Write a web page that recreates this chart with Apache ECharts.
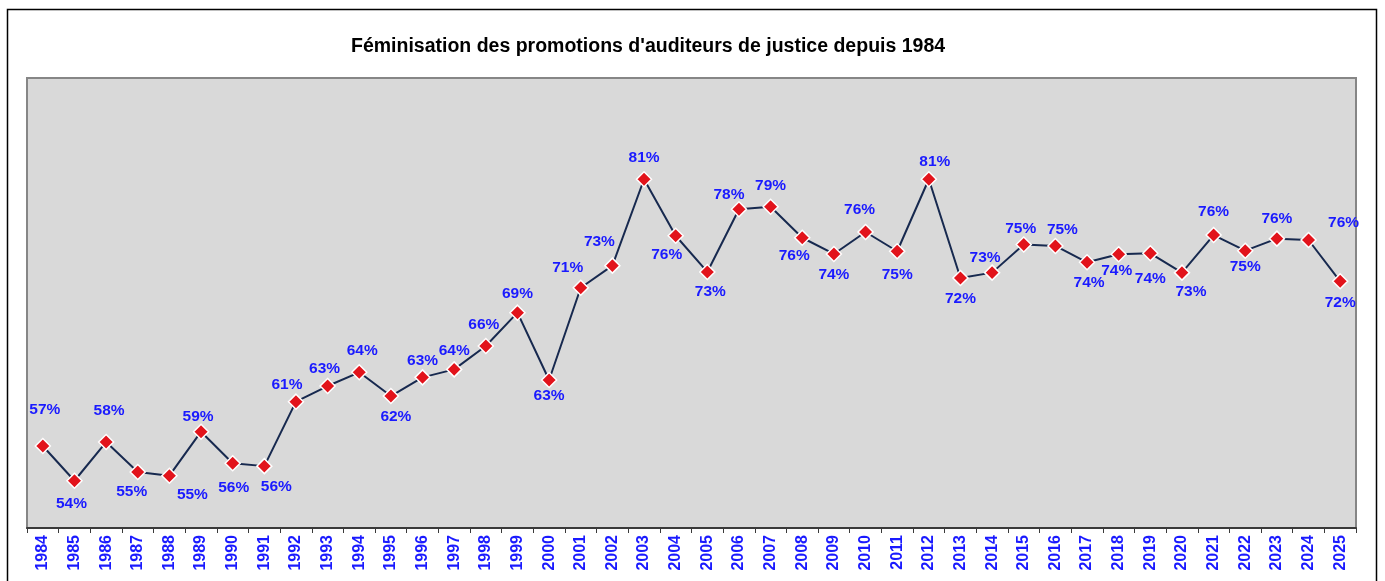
<!DOCTYPE html>
<html>
<head>
<meta charset="utf-8">
<script src="https://cdn.jsdelivr.net/npm/echarts@6/dist/echarts.min.js"></script>
<style>
html,body{margin:0;padding:0;background:#fff;}
#chart{width:1385px;height:581px;}
</style>
</head>
<body>
<div id="chart"></div>
<script>
// ---- Data ----
const chartTitle = "Féminisation des promotions d'auditeurs de justice depuis 1984";
const years = ['1984','1985','1986','1987','1988','1989','1990','1991','1992','1993','1994','1995','1996','1997',
  '1998','1999','2000','2001','2002','2003','2004','2005','2006','2007','2008','2009','2010','2011',
  '2012','2013','2014','2015','2016','2017','2018','2019','2020','2021','2022','2023','2024','2025'];
const femRate = [57.29, 54.2, 57.64, 54.98, 54.65, 58.56, 55.75, 55.5, 61.23, 62.62, 63.84, 61.73, 63.39, 64.1,
  66.18, 69.14, 63.16, 71.36, 73.32, 81.0, 75.98, 72.76, 78.33, 78.55, 75.8, 74.36, 76.31, 74.6,
  81.0, 72.22, 72.7, 75.2, 75.07, 73.62, 74.33, 74.42, 72.7, 76.04, 74.65, 75.72, 75.6, 71.93];

// ---- Layout (label placement offsets relative to each marker, px) ----
const labelOffsets = [
  [2,-36],[-3,23],[3,-31],[-6,20],[23,19],[-3,-15],[1,24],[12,21],[-9,-17],[-3,-17],[3,-22],[5,21],[0,-17],[0,-19],
  [-2,-21],[0,-19],[0,16],[-13,-20],[-13,-24],[0,-22],[-9,19],[3,20],[-10,-15],[0,-21],[-8,18],[0,21],[-6,-22],[0,23],
  [6,-18],[0,21],[-7,-15],[-3,-16],[7,-16],[2,20],[-2,16],[0,25],[9,19],[0,-23],[0,16],[0,-20],[35,-17],[0,21]
];

const FONT = '"Liberation Sans", Arial, sans-serif';
const chart = echarts.init(document.getElementById('chart'), null, {renderer: 'canvas'});

const option = {
  backgroundColor: '#ffffff',
  animation: false,
  title: {
    text: chartTitle,
    left: 346,
    top: 32,
    textStyle: {fontFamily: FONT, fontSize: 19.5, fontWeight: 'bold', color: '#000'}
  },
  graphic: [{
    type: 'rect',
    z: 100,
    shape: {x: 7.5, y: 9.5, width: 1369, height: 620},
    style: {fill: 'none', stroke: '#000', lineWidth: 1.5}
  }],
  grid: {
    left: 27, top: 78, right: 29, bottom: 53,
    show: true,
    backgroundColor: '#d9d9d9',
    borderColor: '#868686',
    borderWidth: 2
  },
  xAxis: {
    type: 'category',
    data: years,
    boundaryGap: true,
    axisLine: {show: true, lineStyle: {color: '#3a3a3a', width: 2}},
    axisTick: {show: true, alignWithLabel: false, length: 5, lineStyle: {color: '#3a3a3a', width: 1}},
    axisLabel: {
      rotate: 90, interval: 0, margin: 7,
      color: '#1a1aff', fontFamily: FONT, fontSize: 16, fontWeight: 'bold'
    },
    splitLine: {show: false}
  },
  yAxis: {
    type: 'value',
    min: 50, max: 90,
    show: false,
    splitLine: {show: false}
  },
  series: [{
    type: 'line',
    data: femRate.map((v, i) => ({value: v, label: {offset: labelOffsets[i]}})),
    symbol: 'diamond',
    symbolSize: 15,
    lineStyle: {color: '#17294f', width: 2},
    itemStyle: {color: '#e2131b', borderColor: '#ffffff', borderWidth: 1.5},
    label: {
      show: true,
      position: 'inside',
      formatter: p => Math.round(p.value) + '%',
      color: '#1a1aff',
      fontFamily: FONT,
      fontSize: 15.5,
      fontWeight: 'bold'
    },
    z: 5
  }]
};
chart.setOption(option);
</script>
</body>
</html>
